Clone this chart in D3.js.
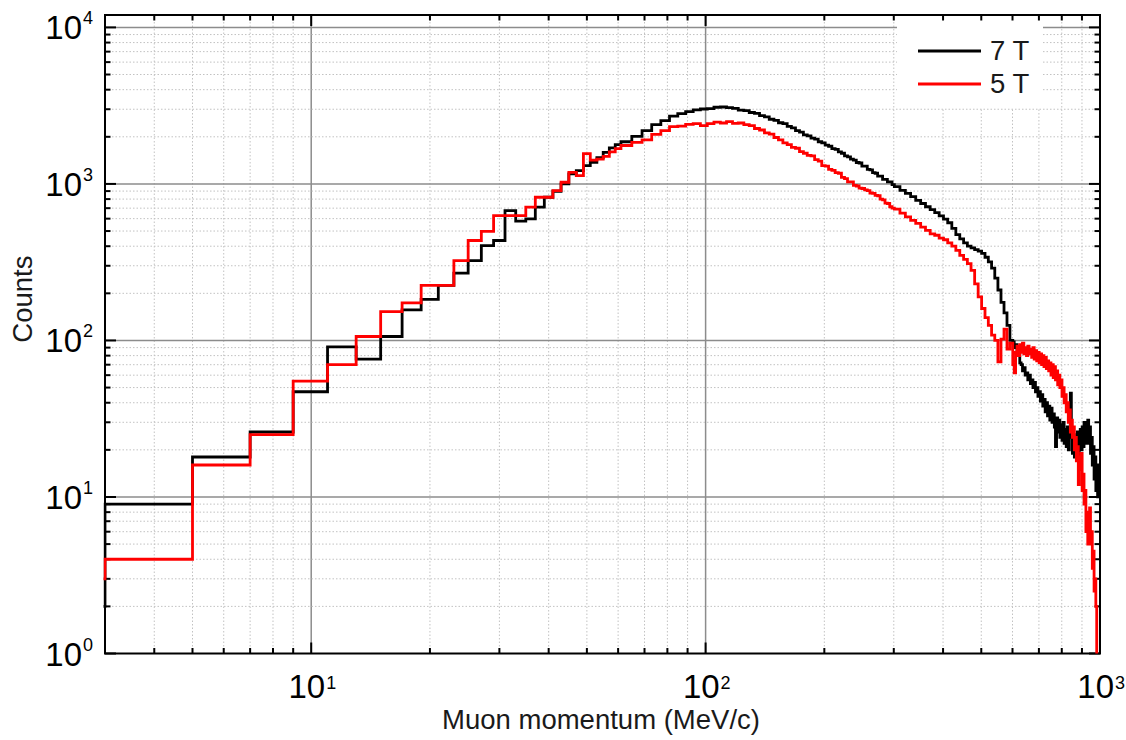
<!DOCTYPE html>
<html>
<head>
<meta charset="utf-8">
<script src="https://cdn.jsdelivr.net/npm/d3@7"></script>
<style>
  body { margin: 0; background: #fff; }
  svg { display: block; font-family: "Liberation Sans", Arial, sans-serif; }
  .grid-major { stroke: #8c8c8c; stroke-width: 1.5; }
  .grid-minor { stroke: #c2c2c2; stroke-width: 1; stroke-dasharray: 1.5,2; }
  .tick { stroke: #000; stroke-width: 2; }
  .frame { fill: none; stroke: #000; stroke-width: 2; }
  .series { fill: none; stroke-width: 2.8; stroke-linejoin: miter; }
  .tick-label { font-size: 33px; fill: #000; }
  .tick-exp { font-size: 18px; fill: #000; }
  .axis-title, .legend-label { font-size: 27.5px; fill: #1a1a1a; }
</style>
</head>
<body>
<svg id="chart"></svg>
<script>
// histogram binning in MeV/c: [first edge, last edge, bin width]
const binSegments = [[1, 61, 2], [61, 301, 4], [301, 601, 10], [601, 1001, 5]];

// counts per bin, 7 T field
const counts7T = [
  // 1 - 61, 2 MeV bins
  2, 9, 18, 26, 47, 91, 76, 106, 157, 183,
  225, 269, 324, 404, 435, 676, 578, 598, 710, 822,
  898, 1000, 1160, 1217, 1310, 1375, 1470, 1590, 1700, 1780,
  // 61 - 301, 4 MeV bins
  1860, 2010, 2190, 2390, 2540, 2710, 2810, 2900, 2970, 3010,
  3030, 3090, 3100, 3070, 3040, 2960, 2940, 2860, 2820, 2730,
  2680, 2590, 2550, 2460, 2430, 2330, 2280, 2190, 2140, 2060,
  2030, 1960, 1930, 1860, 1830, 1770, 1740, 1680, 1660, 1600,
  1570, 1510, 1490, 1440, 1420, 1370, 1360, 1300, 1300, 1240,
  1230, 1180, 1170, 1120, 1120, 1070, 1070, 1030, 1030, 990,
  // 301 - 601, 10 MeV bins
  960, 910, 870, 830, 785, 750, 715, 685, 655, 625,
  595, 565, 520, 475, 445, 420, 400, 390, 380, 372,
  360, 340, 318, 290, 250, 210, 175, 150, 125, 100,
  // 601 - 1001, 5 MeV bins
  98, 90, 94, 82, 84, 72, 70, 64, 67, 60,
  62, 56, 60, 53, 56, 50, 54, 47, 50, 44,
  47, 41, 45, 38, 42, 35, 40, 33, 38, 31,
  37, 30, 34, 28, 21, 32, 26, 31, 24, 29,
  23, 30, 22, 27, 21, 28, 20, 26, 46, 24,
  19, 25, 18, 24, 20, 26, 18, 23, 27, 20,
  28, 21, 30, 22, 29, 23, 31, 22, 28, 19,
  24, 16, 21, 13, 18, 11, 16, 10, 14, 11
];

// counts per bin, 5 T field
const counts5T = [
  // 1 - 61
  3, 4, 16, 25, 55, 70, 106, 153, 174, 225,
  225, 324, 435, 497, 628, 628, 628, 710, 822, 822,
  907, 1025, 1186, 1130, 1560, 1420, 1440, 1500, 1600, 1680,
  // 61 - 301
  1760, 1840, 1910, 2070, 2190, 2320, 2340, 2400, 2430, 2360,
  2430, 2480, 2450, 2500, 2440, 2450, 2390, 2360, 2260, 2210,
  2120, 2080, 1980, 1910, 1830, 1780, 1710, 1690, 1610, 1570,
  1520, 1510, 1430, 1400, 1310, 1300, 1240, 1220, 1180, 1170,
  1100, 1080, 1030, 1030, 980, 970, 940, 935, 915, 905,
  875, 870, 845, 840, 800, 790, 755, 750, 715, 700,
  // 301 - 601
  690, 650, 615, 585, 560, 530, 505, 480, 470, 450,
  440, 420, 400, 376, 350, 330, 310, 280, 230, 190,
  160, 140, 125, 108, 100, 73, 102, 118, 88, 96,
  // 601 - 1001
  70, 62, 84, 92, 80, 94, 84, 96, 82, 90,
  80, 92, 82, 88, 78, 90, 76, 86, 74, 84,
  72, 82, 70, 80, 68, 78, 66, 74, 64, 72,
  60, 70, 58, 68, 56, 64, 52, 60, 50, 56,
  44, 50, 40, 45, 35, 40, 30, 36, 26, 31,
  24, 28, 20, 24, 17, 21, 12, 18, 15, 19,
  11, 14, 9, 11, 6, 8, 5, 7, 8.5, 5,
  6, 3.5, 4.5, 2.5, 3, 2, 0, 0, 0, 0
];

const seriesNames = ['7 T', '5 T'];
const seriesColors = ['#000000', '#ff0000'];
const xDomain = [3, 1000];
const yDomain = [1, 12000];
const xTitle = 'Muon momentum (MeV/c)';
const yTitle = 'Counts';

const config = {
  width: 1126,
  height: 740,
  margin: { top: 15, right: 26, bottom: 86.5, left: 105 },
  majorTick: 11,
  minorTick: 5.5,
  legend: { x: 792, width: 146, height: 93, lineX: 813, lineLen: 63, rowY: 36, rowGap: 33 }
};

const innerW = config.width - config.margin.left - config.margin.right;
const innerH = config.height - config.margin.top - config.margin.bottom;

const svg = d3.select('#chart')
  .attr('width', config.width)
  .attr('height', config.height);

const chart = svg.append('g')
  .attr('transform', `translate(${config.margin.left},${config.margin.top})`);

const xScale = d3.scaleLog().domain(xDomain).range([0, innerW]);
const yScale = d3.scaleLog().domain(yDomain).range([innerH, 0]).clamp(true);

const isDecade = v => Math.abs(Math.log10(v) - Math.round(Math.log10(v))) < 1e-9;

// log ticks inside the plot (skip the frame edges)
const xTicks = xScale.ticks().filter(v => v > xDomain[0] && v <= xDomain[1]);
const yTicks = yScale.ticks().filter(v => v >= yDomain[0] && v <= 10000);

// grid
chart.append('g').selectAll('line')
  .data(xTicks.filter(v => v < xDomain[1]))
  .join('line')
  .attr('class', d => isDecade(d) ? 'grid-major' : 'grid-minor')
  .attr('x1', d => xScale(d)).attr('x2', d => xScale(d))
  .attr('y1', 0).attr('y2', innerH);

chart.append('g').selectAll('line')
  .data(yTicks.filter(v => v > yDomain[0]))
  .join('line')
  .attr('class', d => isDecade(d) ? 'grid-major' : 'grid-minor')
  .attr('x1', 0).attr('x2', innerW)
  .attr('y1', d => yScale(d)).attr('y2', d => yScale(d));

// legend background hides the grid behind it
const lg = config.legend;
chart.append('rect')
  .attr('x', lg.x)
  .attr('y', 0)
  .attr('width', lg.width)
  .attr('height', lg.height)
  .attr('fill', '#fff');

// frame
chart.append('rect')
  .attr('class', 'frame')
  .attr('width', innerW)
  .attr('height', innerH);

// ticks on all four sides, pointing inward
const tickLen = d => isDecade(d) ? config.majorTick : config.minorTick;
const tickG = chart.append('g');
xTicks.forEach(d => {
  tickG.append('line').attr('class', 'tick')
    .attr('x1', xScale(d)).attr('x2', xScale(d))
    .attr('y1', innerH).attr('y2', innerH - tickLen(d));
  tickG.append('line').attr('class', 'tick')
    .attr('x1', xScale(d)).attr('x2', xScale(d))
    .attr('y1', 0).attr('y2', tickLen(d));
});
yTicks.forEach(d => {
  tickG.append('line').attr('class', 'tick')
    .attr('y1', yScale(d)).attr('y2', yScale(d))
    .attr('x1', 0).attr('x2', tickLen(d));
  tickG.append('line').attr('class', 'tick')
    .attr('y1', yScale(d)).attr('y2', yScale(d))
    .attr('x1', innerW).attr('x2', innerW - tickLen(d));
});

// tick labels 10^n
const xLabels = chart.append('g').selectAll('g')
  .data(xTicks.filter(isDecade))
  .join('g')
  .attr('transform', d => `translate(${xScale(d)},${innerH})`);
xLabels.append('text').attr('class', 'tick-label')
  .attr('x', 14).attr('y', 44).attr('text-anchor', 'end').text('10');
xLabels.append('text').attr('class', 'tick-exp')
  .attr('x', 15).attr('y', 35).text(d => Math.round(Math.log10(d)));

const yLabels = chart.append('g').selectAll('g')
  .data(yTicks.filter(isDecade))
  .join('g')
  .attr('transform', d => `translate(0,${yScale(d)})`);
yLabels.append('text').attr('class', 'tick-label')
  .attr('x', -23).attr('y', 12).attr('text-anchor', 'end').text('10');
yLabels.append('text').attr('class', 'tick-exp')
  .attr('x', -22).attr('y', -3).text(d => Math.round(Math.log10(d)));

// axis titles
svg.append('text').attr('class', 'axis-title')
  .attr('x', config.margin.left + innerW * 0.4985)
  .attr('y', 729)
  .attr('text-anchor', 'middle')
  .text(xTitle);

svg.append('text').attr('class', 'axis-title')
  .attr('transform', `translate(32,${config.margin.top + innerH * 0.445}) rotate(-90)`)
  .attr('text-anchor', 'middle')
  .text(yTitle);

// step histograms
const edges = binSegments.flatMap(([a, b, w]) => d3.range(a, b, w));
edges.push(binSegments[binSegments.length - 1][1]);

svg.append('defs').append('clipPath').attr('id', 'plot-clip')
  .append('rect')
  .attr('x', -1.5).attr('y', -1.5)
  .attr('width', innerW + 3).attr('height', innerH + 1.5);

const stepLine = d3.line()
  .x(d => xScale(d[0]))
  .y(d => d[1] > 0 ? yScale(d[1]) : innerH + 2)
  .curve(d3.curveStepAfter);

const series = [counts7T, counts5T].map((counts, i) => ({
  name: seriesNames[i],
  color: seriesColors[i],
  points: edges.map((e, j) => [e, counts[Math.min(j, counts.length - 1)]])
}));

chart.append('g')
  .attr('clip-path', 'url(#plot-clip)')
  .selectAll('path')
  .data(series)
  .join('path')
  .attr('class', 'series')
  .attr('stroke', d => d.color)
  .attr('d', d => stepLine(d.points));

// legend
const legend = chart.append('g')
  .attr('transform', `translate(${lg.lineX},${lg.rowY})`);
const legendItems = legend.selectAll('g')
  .data(series)
  .join('g')
  .attr('transform', (d, i) => `translate(0,${i * lg.rowGap})`);
legendItems.append('line')
  .attr('x1', 0).attr('x2', lg.lineLen)
  .attr('stroke', d => d.color)
  .attr('stroke-width', 3);
legendItems.append('text')
  .attr('class', 'legend-label')
  .attr('x', 72).attr('y', 9)
  .text(d => d.name);
</script>
</body>
</html>
